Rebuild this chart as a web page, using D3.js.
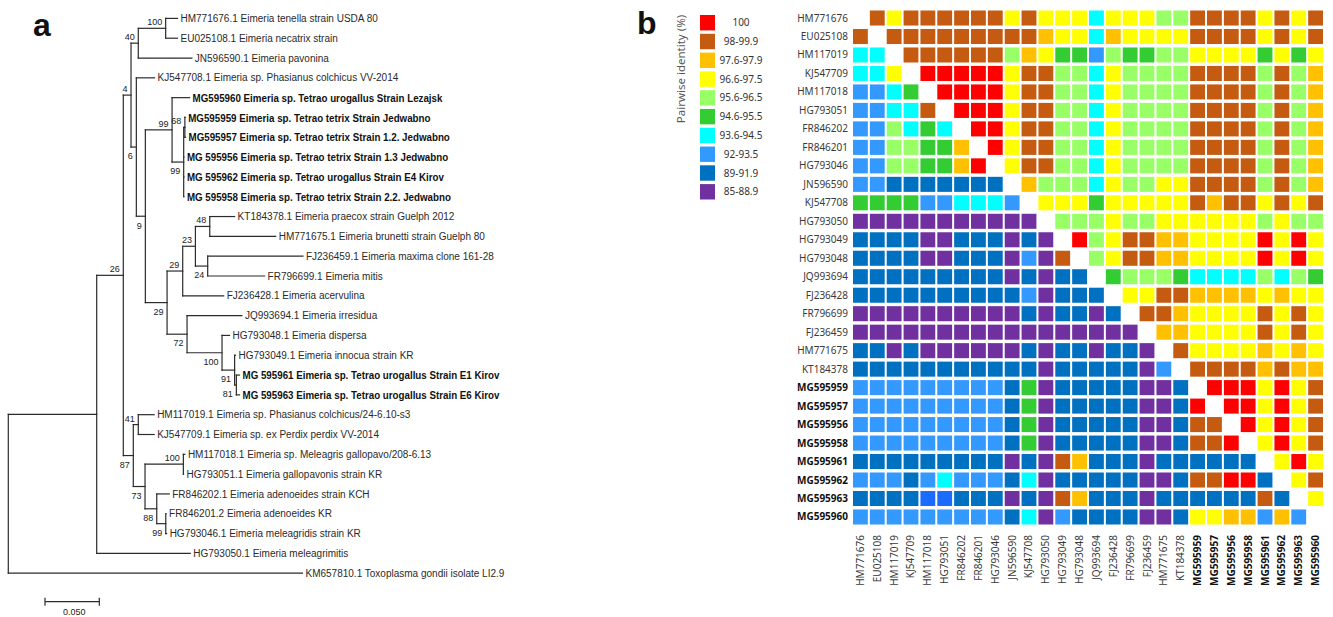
<!DOCTYPE html>
<html><head><meta charset="utf-8">
<script src="https://cdn.jsdelivr.net/npm/d3@7"></script>
<style>body{margin:0;background:#fff}svg{display:block}</style>
</head><body>
<svg id="chart" width="1333" height="617"></svg>
<script>
// ---------------- DATA ----------------
// Panel a: phylogenetic tree (leaf labels in display order; Newick uses leaf indices)
const leafNames = [
  "HM771676.1 Eimeria tenella strain USDA 80",
  "EU025108.1 Eimeria necatrix strain",
  "JN596590.1 Eimeria pavonina",
  "KJ547708.1 Eimeria sp. Phasianus colchicus VV-2014",
  "MG595960 Eimeria sp. Tetrao urogallus Strain Lezajsk",
  "MG595959 Eimeria sp. Tetrao tetrix Strain Jedwabno",
  "MG595957 Eimeria sp. Tetrao tetrix Strain 1.2. Jedwabno",
  "MG 595956 Eimeria sp. Tetrao tetrix Strain 1.3 Jedwabno",
  "MG 595962 Eimeria sp. Tetrao urogallus Strain E4 Kirov",
  "MG 595958 Eimeria sp. Tetrao tetrix Strain 2.2. Jedwabno",
  "KT184378.1 Eimeria praecox strain Guelph 2012",
  "HM771675.1 Eimeria brunetti strain Guelph 80",
  "FJ236459.1 Eimeria maxima clone 161-28",
  "FR796699.1 Eimeria mitis",
  "FJ236428.1 Eimeria acervulina",
  "JQ993694.1 Eimeria irresidua",
  "HG793048.1 Eimeria dispersa",
  "HG793049.1 Eimeria innocua strain KR",
  "MG 595961 Eimeria sp. Tetrao urogallus Strain E1 Kirov",
  "MG 595963 Eimeria sp. Tetrao urogallus Strain E6 Kirov",
  "HM117019.1 Eimeria sp. Phasianus colchicus/24-6.10-s3",
  "KJ547709.1 Eimeria sp. ex Perdix perdix VV-2014",
  "HM117018.1 Eimeria sp. Meleagris gallopavo/208-6.13",
  "HG793051.1 Eimeria gallopavonis strain KR",
  "FR846202.1 Eimeria adenoeides strain KCH",
  "FR846201.2 Eimeria adenoeides KR",
  "HG793046.1 Eimeria meleagridis strain KR",
  "HG793050.1 Eimeria meleagrimitis",
  "KM657810.1 Toxoplasma gondii isolate LI2.9"
];
const cladeUpper = "(((0:0.0109,1:0.0109)100:0.0252,2:0.0493)40:0.0067,(3:0.0168,((4:0.0161,((5:0.0003,6:0.0006)68:0.0011,7:0.0002,8:0.0002,9:0.0002)99:0.0107)99:0.0246,((((10:0.0229,11:0.0607)48:0.0132,(12:0.0877,13:0.0524)24:0.0113)23:0.0117,14:0.0377)29:0.0144,(15:0.0505,(16:0.0069,(17:0.0008,(18:0.0029,19:0.0029)81:0.0016)91:0.0116)100:0.0322)72:0.0184)29:0.0200)9:0.0083)6:0.0049)4:0.0071";
const cladeLower = "((20:0.0146,21:0.0146)41:0.0046,((22:0.0014,23:0.0002)100:0.0353,(24:0.0115,(25:0.0003,26:0.0008)99:0.0083)88:0.0108)73:0.0108)87:0.0092";
const treeNewick = "(((" + cladeUpper + "," + cladeLower + ")26:0.0245,27:0.0861):0.0814,28:0.2709);";
const scaleBarValue = 0.05;
const scaleBarLabel = "0.050";

// Panel b: pairwise identity heat map
const accessions = ["HM771676","EU025108","HM117019","KJ547709","HM117018","HG793051","FR846202","FR846201","HG793046","JN596590","KJ547708","HG793050","HG793049","HG793048","JQ993694","FJ236428","FR796699","FJ236459","HM771675","KT184378","MG595959","MG595957","MG595956","MG595958","MG595961","MG595962","MG595963","MG595960"];
const binCodes  = ["R","B","O","Y","L","G","C","S","D","P"];
const binLabels = ["100","98-99.9","97.6-97.9","96.6-97.5","95.6-96.5","94.6-95.5","93.6-94.5","92-93.5","89-91.9","85-88.9"];
const identityRows = [
  "-BYBBBBBBYBYYYCYYYLLBBBBYBYB",
  "B-BBBBBBBBBOYYCOYYYYBBBBYBYB",
  "CC-BBBBBBLOYGGSLGGLLYYYYGYGY",
  "CCY-RRRRRYBBLLCYLLLLBBBBLBLO",
  "SSCG-RRRRYBBLLCYLLLLBBBBLBLO",
  "SSCCB-RRRYBBLLCYLLLLBBBBLBLO",
  "SSLCGC-RRYBBLLCYLLLLBBBBLBLO",
  "SSLLGGO-RYBBLLCYLLLLBBBBLBLO",
  "SSLLGGOR-YBBLLCYLLLLBBBBLBLO",
  "SSDDDDDDD-OLLLCYLLYYBBBBLBLO",
  "GGGGSSCCCS-YYYGYYYYYBOBBYBYB",
  "PPPPPPPPPPP-LLLYLLYYYYYYLYLL",
  "DDDDPPDDDPDP-RLYBBOOYYYYRYRY",
  "DDDDPPDDDPSPB-LYBBOOYYYYRYRY",
  "DDDDDDDDDPDPDD-GLLLGCCCCLCLG",
  "DDDDDDDDDDSPDDD-YYBBOOOOYOYY",
  "PPPPPPPPPPDPDDPD-BBOYYYYBYBY",
  "PPPPPPPPPPPPPPPPP-OOYYYYBYBY",
  "DDPDPPPPPPDPDDPDDP-BYYYYOYOY",
  "DDDDDDDDDDDPDDDDDPS-BBBBOBOO",
  "SSSSSSSSSDGPDDDDDPPD-RRRYRYB",
  "SSSSSSSSSDGPDDDDDPPDR-RRYRYB",
  "SSSSSSSSSDGPDDDDDPPDBB-RYRYB",
  "SSSSSSSSSDGPDDDDDPPDBBR-YRYB",
  "DDDDDDDDDPDPBODDDPDDDDDD-YRY",
  "SSSDSCSSSDCPDDDDDPPDBBRRD-YB",
  "DDDDXXDDDPDPBODDDPDDDDDDBD-Y",
  "SSSSSSSSSDCPSDDDDPPDYYOOSOS-"
];

// ---------------- DRAW ----------------
const svg = d3.select("#chart");
svg.append("rect").attr("width",1333).attr("height",617).attr("fill","#fff");

// Newick parser
function parseNewick(s){
  let i = 0;
  function node(){
    const n = {children:[]};
    if (s[i] === "("){
      i++; n.children.push(node());
      while (s[i] === ","){ i++; n.children.push(node()); }
      i++;
    }
    let name = "";
    while (i < s.length && !",():;".includes(s[i])) name += s[i++];
    n.name = name;
    n.length = 0;
    if (s[i] === ":"){
      i++; let l = "";
      while (i < s.length && !",();".includes(s[i])) l += s[i++];
      n.length = +l;
    }
    if (!n.children.length) delete n.children;
    return n;
  }
  return node();
}

const root = d3.hierarchy(parseNewick(treeNewick));
root.eachBefore(d => { d.cum = (d.parent ? d.parent.cum : 0) + (d.parent ? d.data.length : 0); });
const leaves = root.leaves();
const xT = d3.scaleLinear().domain([0, scaleBarValue]).range([8.3, 62.6]);
const yT = d3.scalePoint().domain(leaves.map(d => d.data.name)).range([18.4, 573.2]);
leaves.forEach(d => d.yy = yT(d.data.name));
root.eachAfter(d => { if (d.children) d.yy = (d.children[0].yy + d.children[d.children.length-1].yy) / 2; });

const gTree = svg.append("g").attr("stroke-linecap","square");
const lineCol = "#2b2b2b";
// horizontal branches
gTree.selectAll("line.h").data(root.descendants().filter(d => d.parent)).join("line")
  .attr("x1", d => xT(d.parent.cum)).attr("x2", d => xT(d.cum))
  .attr("y1", d => d.yy).attr("y2", d => d.yy)
  .attr("stroke", lineCol).attr("stroke-width", 1.2);
// vertical connectors
gTree.selectAll("line.v").data(root.descendants().filter(d => d.children)).join("line")
  .attr("x1", d => xT(d.cum)).attr("x2", d => xT(d.cum))
  .attr("y1", d => d.children[0].yy).attr("y2", d => d.children[d.children.length-1].yy)
  .attr("stroke", lineCol).attr("stroke-width", 1.2);
// bootstrap values
gTree.selectAll("text.bs").data(root.descendants().filter(d => d.children && d.data.name)).join("text")
  .attr("x", d => xT(d.cum) - 3.5)
  .attr("y", d => (d.parent && d.parent.children[0] === d) ? d.yy - 3 : d.yy + 12.3)
  .attr("text-anchor","end")
  .attr("font-family","'Liberation Sans', Arial, sans-serif").attr("font-size",9)
  .attr("fill","#222").text(d => d.data.name);
// leaf labels
leaves.forEach(d => {
  const label = leafNames[+d.data.name];
  const bold = label.startsWith("MG");
  const t = gTree.append("text")
    .attr("transform", `translate(${xT(d.cum) + 3},${d.yy})` + (bold ? " scale(0.85,1)" : ""))
    .attr("dy","0.36em")
    .attr("font-family","'Liberation Sans', Arial, sans-serif")
    .attr("font-size", bold ? 11.5 : 10)
    .attr("font-weight", bold ? 700 : 400)
    .attr("fill", bold ? "#111" : "#2a2a2a")
    .text(label);
});
// scale bar
const barX0 = 45, barY = 601.7;
const barLen = xT(scaleBarValue) - xT(0);
const gBar = svg.append("g").attr("stroke", lineCol).attr("stroke-width", 1.2);
gBar.append("line").attr("x1", barX0).attr("x2", barX0 + barLen).attr("y1", barY).attr("y2", barY);
gBar.append("line").attr("x1", barX0).attr("x2", barX0).attr("y1", barY - 4).attr("y2", barY + 4);
gBar.append("line").attr("x1", barX0 + barLen).attr("x2", barX0 + barLen).attr("y1", barY - 4).attr("y2", barY + 4);
svg.append("text").attr("x", barX0 + barLen/2 + 2).attr("y", 614.5).attr("text-anchor","middle")
  .attr("font-family","'Liberation Sans', Arial, sans-serif").attr("font-size",9).attr("fill","#222")
  .text(scaleBarLabel);

// panel letters
svg.append("text").attr("x",33).attr("y",36).attr("font-family","'Liberation Sans', Arial, sans-serif")
  .attr("font-weight",700).attr("font-size",32).attr("fill","#111").text("a");
svg.append("text").attr("x",637).attr("y",34).attr("font-family","'Liberation Sans', Arial, sans-serif")
  .attr("font-weight",700).attr("font-size",32).attr("fill","#111").text("b");

// heat map
const color = d3.scaleOrdinal()
  .domain([...binCodes, "X"])
  .range(["#ff0000","#c55a11","#ffc000","#ffff00","#99ff66","#33cc33","#00ffff","#3399ff","#0070c0","#7030a0","#1a6bff"]);
const xB = d3.scaleBand().domain(accessions).range([853, 1323]).paddingInner(0.12);
const yB = d3.scaleBand().domain(accessions).range([10.5, 524.5]).paddingInner(0.186);
const cells = [];
identityRows.forEach((row, r) => row.split("").forEach((code, c) => {
  if (code !== "-") cells.push({r: accessions[r], c: accessions[c], code});
}));
const gHeat = svg.append("g");
gHeat.selectAll("rect").data(cells).join("rect")
  .attr("x", d => xB(d.c)).attr("y", d => yB(d.r))
  .attr("width", xB.bandwidth()).attr("height", yB.bandwidth())
  .attr("fill", d => color(d.code));
const hmFont = "'Noto Sans', 'Open Sans', sans-serif";
gHeat.selectAll("text.row").data(accessions).join("text")
  .attr("x", 848).attr("y", d => yB(d) + yB.bandwidth()/2).attr("dy","0.35em")
  .attr("text-anchor","end").attr("font-family", hmFont).attr("font-size",10)
  .attr("font-weight", d => d.startsWith("MG") ? 700 : 400)
  .attr("fill", d => d.startsWith("MG") ? "#111" : "#3a3a3a").text(d => d);
gHeat.selectAll("text.col").data(accessions).join("text")
  .attr("transform", d => `translate(${xB(d) + xB.bandwidth()/2},535) rotate(-90)`).attr("dy","0.35em")
  .attr("text-anchor","end").attr("font-family", hmFont).attr("font-size",10)
  .attr("font-weight", d => d.startsWith("MG") ? 700 : 400)
  .attr("fill", d => d.startsWith("MG") ? "#111" : "#3a3a3a").text(d => d);

// legend
const yL = d3.scaleBand().domain(binCodes).range([15, 15 + 10*18.45]).paddingInner(0.18);
const gLeg = svg.append("g");
gLeg.selectAll("rect").data(binCodes).join("rect")
  .attr("x", 700).attr("y", d => yL(d)).attr("width", 15).attr("height", yL.bandwidth())
  .attr("fill", d => color(d));
gLeg.selectAll("text").data(binCodes).join("text")
  .attr("x", 741).attr("y", d => yL(d) + yL.bandwidth()/2).attr("dy","0.35em")
  .attr("text-anchor","middle").attr("font-family", hmFont).attr("font-size",10).attr("fill","#333")
  .text((d,i) => binLabels[i]);
svg.append("text").attr("transform","translate(685,69) rotate(-90)").attr("text-anchor","middle")
  .attr("font-family", hmFont).attr("font-size",11.5).attr("fill","#595959").text("Pairwise identity (%)");
</script>
</body></html>
